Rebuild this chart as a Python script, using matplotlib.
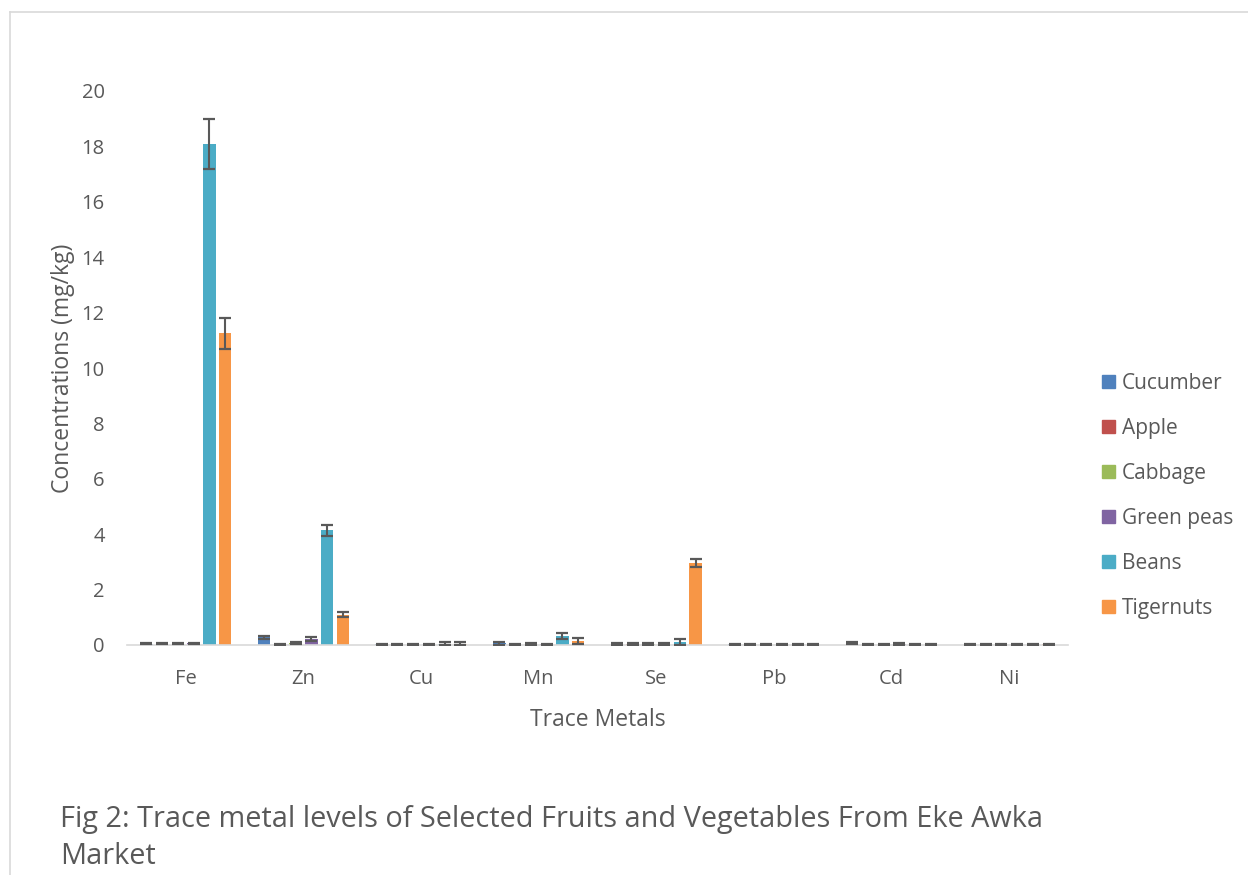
import matplotlib
matplotlib.use("Agg")
import matplotlib.pyplot as plt
import numpy as np
from matplotlib.patches import Rectangle
from matplotlib.lines import Line2D

plt.rcParams['font.family'] = ['Open Sans', 'DejaVu Sans']

metals = ["Fe", "Zn", "Cu", "Mn", "Se", "Pb", "Cd", "Ni"]
samples = ["Cucumber", "Apple", "Cabbage", "Green peas", "Beans", "Tigernuts"]
colors = ["#4F81BD", "#C0504D", "#9BBB59", "#8064A2", "#4BACC6", "#F79646"]

# mean concentrations (mg/kg), one list per sample, ordered as metals
cucumber   = [0.05, 0.28, 0.03, 0.06, 0.04, 0.02, 0.06, 0.01]
apple      = [0.05, 0.03, 0.01, 0.03, 0.04, 0.01, 0.01, 0.01]
cabbage    = [0.06, 0.08, 0.01, 0.05, 0.03, 0.01, 0.01, 0.01]
green_peas = [0.06, 0.22, 0.03, 0.03, 0.04, 0.01, 0.03, 0.01]
beans      = [18.1, 4.15, 0.05, 0.32, 0.10, 0.01, 0.01, 0.01]
tigernuts  = [11.25, 1.10, 0.05, 0.15, 2.95, 0.01, 0.01, 0.03]

# standard deviations
cucumber_sd   = [0.02, 0.06, 0.02, 0.05, 0.05, 0.02, 0.04, 0.01]
apple_sd      = [0.02, 0.02, 0.01, 0.02, 0.05, 0.01, 0.01, 0.01]
cabbage_sd    = [0.03, 0.04, 0.01, 0.04, 0.04, 0.01, 0.01, 0.01]
green_peas_sd = [0.03, 0.06, 0.02, 0.02, 0.05, 0.01, 0.03, 0.01]
beans_sd      = [0.9, 0.20, 0.06, 0.10, 0.10, 0.01, 0.01, 0.01]
tigernuts_sd  = [0.55, 0.08, 0.06, 0.10, 0.15, 0.01, 0.01, 0.02]

values = [cucumber, apple, cabbage, green_peas, beans, tigernuts]
errors = [cucumber_sd, apple_sd, cabbage_sd, green_peas_sd, beans_sd, tigernuts_sd]

W, H = 1248, 875
fig = plt.figure(figsize=(W / 100, H / 100), dpi=100)

# outer chart frame
fig.add_artist(Line2D([10 / W, 10 / W], [0, 1 - 12 / H], transform=fig.transFigure,
                      color="#D9D9D9", lw=1.2))
fig.add_artist(Line2D([10 / W, 1], [1 - 12 / H, 1 - 12 / H], transform=fig.transFigure,
                      color="#D9D9D9", lw=1.2))

ax = fig.add_axes([127 / W, 1 - 645 / H, (1068 - 127) / W, (645 - 91) / H])

x = np.arange(len(metals))
step = 0.134
width = 0.106
for i, (name, vals, errs, c) in enumerate(zip(samples, values, errors, colors)):
    pos = x + (i - 2.5) * step
    ax.bar(pos, vals, width=width, color=c, label=name, zorder=2)
    ax.errorbar(pos, vals, yerr=errs, fmt="none", ecolor="#595959",
                elinewidth=1.5, capsize=4.3, capthick=1.6, zorder=3)

ax.set_xlim(-0.5, len(metals) - 0.5)
ax.set_ylim(0, 20)
ax.set_yticks(range(0, 21, 2))
ax.set_xticks(x)
ax.set_xticklabels(metals)
for s in ["top", "right", "left"]:
    ax.spines[s].set_visible(False)
ax.spines["bottom"].set_color("#D9D9D9")
ax.spines["bottom"].set_linewidth(1.2)
ax.tick_params(axis="both", length=0, labelsize=14.5, labelcolor="#595959")
ax.tick_params(axis="y", pad=16)
ax.tick_params(axis="x", pad=17)
ax.set_xlabel("Trace Metals", fontsize=16.5, color="#595959", labelpad=14)
ax.set_ylabel("Concentrations (mg/kg)", fontsize=16.5, color="#595959", labelpad=5)

handles = [Rectangle((0, 0), 1, 1, color=c) for c in colors]
fig.legend(handles, samples, loc="upper left", bbox_to_anchor=(1102 / W, 1 - 373 / H),
           frameon=False, fontsize=15, labelcolor="#595959", handlelength=0.62,
           handleheight=0.62, handletextpad=0.35, labelspacing=1.15, borderaxespad=0,
           borderpad=0)

fig.text(60 / W, 1 - 819 / H,
         "Fig 2: Trace metal levels of Selected Fruits and Vegetables From Eke Awka",
         fontsize=20.8, color="#595959", va="center", ha="left")
fig.text(60 / W, 1 - 857 / H, "Market", fontsize=20.8, color="#595959",
         va="center", ha="left")

fig.savefig("out.png", dpi=100)
